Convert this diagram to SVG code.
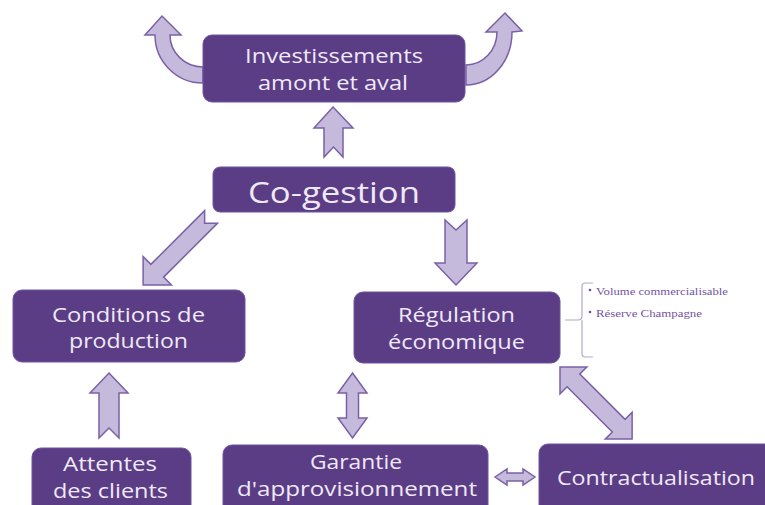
<svg xmlns="http://www.w3.org/2000/svg" width="765" height="505" viewBox="0 0 765 505">
<style>
.box{fill:#5b3d86;stroke:#6f54a0;stroke-width:1}
.arr{fill:#c6badc;stroke:#7a60a6;stroke-width:1.5;stroke-linejoin:miter}
.t{font-family:"Open Sans",Lato,sans-serif;fill:#efe9f6;text-anchor:middle}
.note{font-family:"Liberation Serif",serif;font-size:10px;fill:#7555a3}
.br{fill:none;stroke:#b3a7c6;stroke-width:1.2}
</style>
<rect width="765" height="505" fill="#ffffff"/>
<g id="connectors">
<path class="arr" d="M203,83 A48,48 0 0 1 155,35 L145,35 L162,16 L181,35 L170,35 A33,32 0 0 0 203,67 Z"/>
<path class="arr" d="M466,85 A46,53 0 0 0 512,32 L522,31 L505,13 L486,32 L497,32 A31,33 0 0 1 466,65 Z"/>
<path class="arr" d="M333,107 L353,128 L343,128 L343,157 L333.5,147 L324,157 L324,128 L314,128 Z"/>
<path class="arr" d="M456,285 L477,263 L467,263 L467,220 L456,230 L445,220 L445,263 L435,263 Z"/>
<path class="arr" transform="translate(211,217) rotate(135)" d="M0,-9 L76,-9 L76,-20 L96,0 L76,20 L76,9 L0,9 L9,0 Z"/>
<path class="arr" d="M109,373 L128,393 L119,393 L119,438 L109,428 L99,438 L99,393 L90,393 Z"/>
<path class="arr" d="M352.5,373 L367,393 L358.5,393 L358.5,418 L367,418 L352.5,438 L338,418 L346.5,418 L346.5,393 L338,393 Z"/>
<path class="arr" d="M495,477 L507,469 L507,473 L523,473 L523,469 L535,477 L523,485 L523,481 L507,481 L507,485 Z"/>
<path class="arr" transform="translate(560,367) rotate(45)" d="M0,0 L19,-19 L19,-9 L83,-9 L83,-19 L102,0 L83,19 L83,9 L19,9 L19,19 Z"/>
</g>
<g id="investissements">
<rect class="box" x="203" y="35" width="262" height="67" rx="9"/>
<text class="t" x="334" y="63" font-size="20" textLength="178" lengthAdjust="spacingAndGlyphs">Investissements</text>
<text class="t" x="333" y="90" font-size="20" textLength="150" lengthAdjust="spacingAndGlyphs">amont et aval</text>
</g>
<g id="cogestion">
<rect class="box" x="213" y="167" width="242" height="45" rx="7"/>
<text class="t" x="334" y="203" font-size="29" textLength="172" lengthAdjust="spacingAndGlyphs">Co-gestion</text>
</g>
<g id="conditions">
<rect class="box" x="13" y="290" width="232" height="72" rx="9"/>
<text class="t" x="128.5" y="322" font-size="20" textLength="153" lengthAdjust="spacingAndGlyphs">Conditions de</text>
<text class="t" x="128.5" y="348" font-size="20" textLength="119" lengthAdjust="spacingAndGlyphs">production</text>
</g>
<g id="regulation">
<rect class="box" x="354" y="292" width="206" height="71" rx="9"/>
<text class="t" x="456.5" y="322" font-size="20" textLength="117" lengthAdjust="spacingAndGlyphs">Régulation</text>
<text class="t" x="456.5" y="349" font-size="20" textLength="137" lengthAdjust="spacingAndGlyphs">économique</text>
</g>
<g id="note">
<path class="br" d="M565,320 L578,320 Q582,320 582,316 L582,286 Q582,283 586,283 L593,283 M582,320 L582,354 Q582,357 586,357 L593,357"/>
<circle cx="590" cy="290" r="1.3" fill="#6a4f95"/>
<circle cx="590" cy="312" r="1.3" fill="#6a4f95"/>
<text class="note" x="596" y="295" textLength="132" lengthAdjust="spacingAndGlyphs">Volume commercialisable</text>
<text class="note" x="596" y="317" textLength="106" lengthAdjust="spacingAndGlyphs">Réserve Champagne</text>
</g>
<g id="attentes">
<rect class="box" x="32" y="448" width="159" height="66" rx="9"/>
<text class="t" x="110" y="471" font-size="20" textLength="94" lengthAdjust="spacingAndGlyphs">Attentes</text>
<text class="t" x="110.5" y="498" font-size="20" textLength="115" lengthAdjust="spacingAndGlyphs">des clients</text>
</g>
<g id="garantie">
<rect class="box" x="223" y="445" width="265" height="69" rx="9"/>
<text class="t" x="356" y="469" font-size="20" textLength="92" lengthAdjust="spacingAndGlyphs">Garantie</text>
<text class="t" x="357" y="496" font-size="20" textLength="240" lengthAdjust="spacingAndGlyphs">d'approvisionnement</text>
</g>
<g id="contractualisation">
<rect class="box" x="539" y="444" width="236" height="70" rx="9"/>
<text class="t" x="656" y="485" font-size="20" textLength="198" lengthAdjust="spacingAndGlyphs">Contractualisation</text>
</g>
</svg>
